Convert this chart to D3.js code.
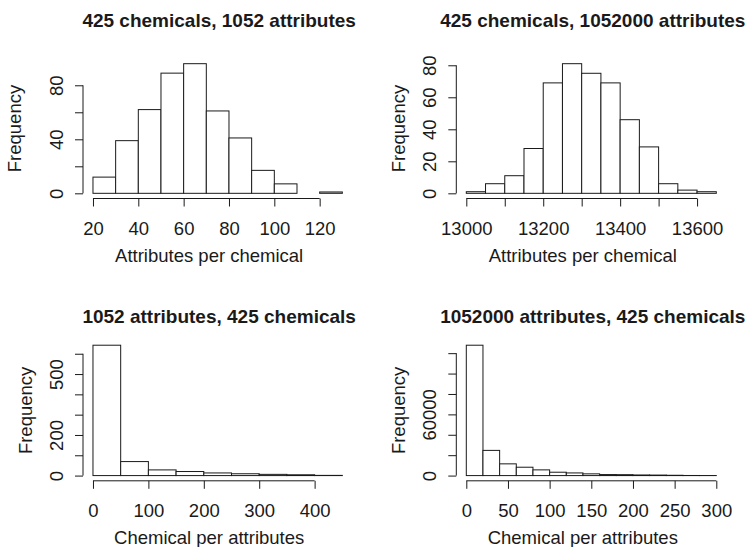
<!DOCTYPE html>
<html>
<head>
<meta charset="utf-8">
<script src="https://cdn.jsdelivr.net/npm/d3@7"></script>
<style>
  body { margin: 0; background: #fff; }
  svg { display: block; font-family: "Liberation Sans", Arial, Helvetica, sans-serif; }
</style>
</head>
<body>
<div id="chart"></div>
<script>
// ---- data ----
var breaks1 = [20, 30, 40, 50, 60, 70, 80, 90, 100, 110, 120, 130];
var counts1 = [12, 39, 62, 89, 96, 61, 41, 17, 7, 0, 1];
var xTicks1 = [20, 40, 60, 80, 100, 120];
var yTicks1 = [0, 20, 40, 60, 80];
var yLabels1 = [0, 40, 80];

var breaks2 = [13000, 13050, 13100, 13150, 13200, 13250, 13300, 13350, 13400, 13450, 13500, 13550, 13600, 13650];
var counts2 = [1, 6, 11, 28, 69, 81, 75, 69, 46, 29, 6, 2, 1];
var xTicks2 = [13000, 13100, 13200, 13300, 13400, 13500, 13600];
var xLabels2 = [13000, 13200, 13400, 13600];
var yTicks2 = [0, 20, 40, 60, 80];

var breaks3 = [0, 50, 100, 150, 200, 250, 300, 350, 400, 450];
var counts3 = [642, 69, 28, 20, 13, 9, 6, 4, 1];
var xTicks3 = [0, 100, 200, 300, 400];
var yTicks3 = [0, 100, 200, 300, 400, 500, 600];
var yLabels3 = [0, 200, 500];

var breaks4 = [0, 20, 40, 60, 80, 100, 120, 140, 160, 180, 200, 220, 240, 260, 280, 300];
var counts4 = [127800, 24700, 11500, 8200, 5600, 3300, 2600, 1700, 1000, 900, 600, 500, 300, 100, 50];
var xTicks4 = [0, 50, 100, 150, 200, 250, 300];
var yTicks4 = [0, 20000, 40000, 60000, 80000, 100000, 120000];
var yLabels4 = [0, 60000];

var titles = [
    "425 chemicals, 1052 attributes",
    "425 chemicals, 1052000 attributes",
    "1052 attributes, 425 chemicals",
    "1052000 attributes, 425 chemicals"
];
var xTitles = ["Attributes per chemical", "Attributes per chemical",
               "Chemical per attributes", "Chemical per attributes"];

// ---- layout ----
var W = 747, H = 547;
var cols = [{left: 83, right: 352.3}, {left: 456.3, right: 726.3}];
var rows = [{top: 58.5, bottom: 198.5, title: 26.5}, {top: 340, bottom: 480.8, title: 322.5}];
var tickLen = 8;
var axisFont = 18.5, titleFont = 19;
var xTitleShift = -8.5;
var ink = "#1a1a1a";

var panels = [
    {breaks: breaks1, counts: counts1, xt: xTicks1, xl: xTicks1, yt: yTicks1, yl: yLabels1, col: 0, row: 0, ylabOff: 62},
    {breaks: breaks2, counts: counts2, xt: xTicks2, xl: xLabels2, yt: yTicks2, yl: yTicks2, col: 1, row: 0, ylabOff: 51},
    {breaks: breaks3, counts: counts3, xt: xTicks3, xl: xTicks3, yt: yTicks3, yl: yLabels3, col: 0, row: 1, ylabOff: 51.5},
    {breaks: breaks4, counts: counts4, xt: xTicks4, xl: xTicks4, yt: yTicks4, yl: yLabels4, col: 1, row: 1, ylabOff: 51}
];

var svg = d3.select("#chart").append("svg")
    .attr("width", W)
    .attr("height", H);

svg.append("rect").attr("width", W).attr("height", H).attr("fill", "#fff");

panels.forEach(function(p, i) {
    var c = cols[p.col], r = rows[p.row];
    var lo = p.breaks[0], hi = p.breaks[p.breaks.length - 1];
    var padX = (hi - lo) * 0.04;
    var maxY = d3.max(p.counts);

    // R style 4% extension of the data range
    var x = d3.scaleLinear().domain([lo - padX, hi + padX]).range([c.left, c.right]);
    var y = d3.scaleLinear().domain([-0.04 * maxY, 1.04 * maxY]).range([r.bottom, r.top]);

    var g = svg.append("g").attr("class", "panel-" + i);

    // bars
    var bins = p.counts.map(function(v, k) {
        return {x0: p.breaks[k], x1: p.breaks[k + 1], n: v};
    });
    g.append("g").selectAll("rect")
        .data(bins)
        .enter()
        .append("rect")
        .attr("x", d => x(d.x0))
        .attr("y", d => y(d.n))
        .attr("width", d => x(d.x1) - x(d.x0))
        .attr("height", d => y(0) - y(d.n))
        .attr("fill", "#fff")
        .attr("stroke", ink)
        .attr("stroke-width", 1);

    // x axis (line only between first and last tick, like R)
    var xAxis = d3.axisBottom(x)
        .tickValues(p.xt)
        .tickSize(tickLen)
        .tickPadding(0)
        .tickFormat(d => p.xl.indexOf(d) >= 0 ? d : "");
    var gx = g.append("g")
        .attr("transform", "translate(0," + r.bottom + ")")
        .call(xAxis);
    gx.select(".domain").remove();
    gx.selectAll("line").attr("stroke", ink);
    gx.selectAll("text")
        .attr("y", 36)
        .attr("dy", null)
        .attr("fill", ink)
        .attr("font-size", axisFont)
        .attr("font-family", "Liberation Sans, Arial, sans-serif");
    gx.append("line")
        .attr("x1", x(p.xt[0])).attr("x2", x(p.xt[p.xt.length - 1]))
        .attr("stroke", ink);

    // y axis
    var yAxis = d3.axisLeft(y)
        .tickValues(p.yt)
        .tickSize(tickLen)
        .tickFormat(d => p.yl.indexOf(d) >= 0 ? d : "");
    var gy = g.append("g")
        .attr("transform", "translate(" + c.left + ",0)")
        .call(yAxis);
    gy.select(".domain").remove();
    gy.selectAll("line").attr("stroke", ink);
    gy.selectAll("text")
        .attr("x", null).attr("dy", null)
        .attr("text-anchor", "middle")
        .attr("transform", "translate(-20.5,0) rotate(-90)")
        .attr("fill", ink)
        .attr("font-size", axisFont)
        .attr("font-family", "Liberation Sans, Arial, sans-serif");
    gy.append("line")
        .attr("y1", y(p.yt[0])).attr("y2", y(p.yt[p.yt.length - 1]))
        .attr("stroke", ink);

    var cx = (c.left + c.right) / 2;
    var cy = (r.top + r.bottom) / 2;

    // titles and axis titles
    g.append("text")
        .attr("x", cx + 1.5).attr("y", r.title)
        .attr("text-anchor", "middle")
        .attr("font-size", titleFont)
        .attr("font-weight", "bold")
        .attr("fill", ink)
        .text(titles[i]);

    g.append("text")
        .attr("x", cx + xTitleShift).attr("y", r.bottom + 63.5)
        .attr("text-anchor", "middle")
        .attr("font-size", axisFont)
        .attr("fill", ink)
        .text(xTitles[i]);

    g.append("text")
        .attr("transform", "translate(" + (c.left - p.ylabOff) + "," + cy + ") rotate(-90)")
        .attr("text-anchor", "middle")
        .attr("font-size", axisFont)
        .attr("fill", ink)
        .text("Frequency");
});
</script>
</body>
</html>
